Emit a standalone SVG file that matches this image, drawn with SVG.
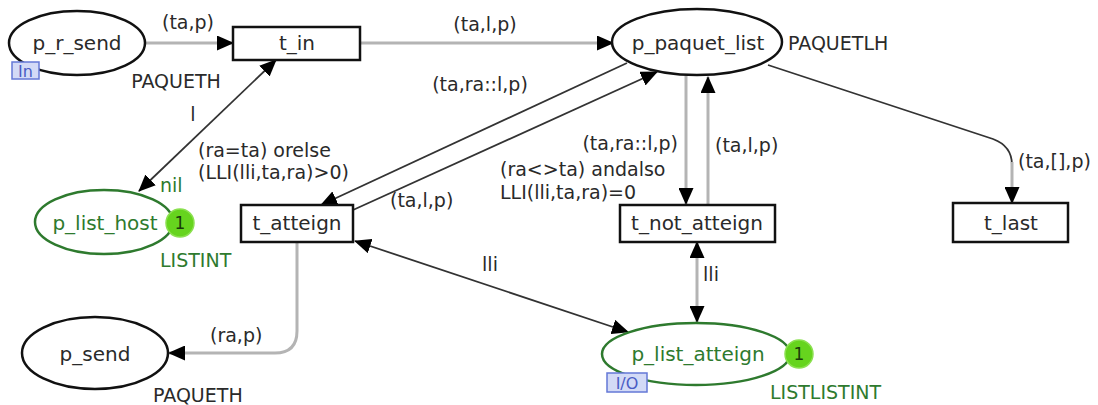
<svg xmlns="http://www.w3.org/2000/svg" width="1098" height="405" viewBox="0 0 1098 405">
<defs>
<marker id="ah" markerUnits="userSpaceOnUse" markerWidth="17" markerHeight="15" refX="16" refY="7.5" orient="auto-start-reverse">
<path d="M0,0 L17,7.5 L0,15 z" fill="#000"/>
</marker>
</defs>
<style>
text{font-family:"DejaVu Sans",Verdana,sans-serif;font-size:19px;fill:#2a2a2a}
.nm{text-anchor:middle}
.n{font-size:20px}
.grn{fill:#2e7a2e}
.pl{fill:#fff;stroke:#111;stroke-width:2.5}
.plg{fill:#fff;stroke:#2e7a2e;stroke-width:2.5}
.tr{fill:#fff;stroke:#111;stroke-width:2.5}
.g{fill:none;stroke:#b4b4b4;stroke-width:3}
.d{fill:none;stroke:#333;stroke-width:1.8}
.tok{fill:#66d41e;stroke:#8be050;stroke-width:1.5}
.tokt{font-size:17px;fill:#1a3a0a;text-anchor:middle}
.port{fill:#d3daf6;stroke:#6478d6;stroke-width:1.5}
.portt{font-size:16px;fill:#4a5cc4;text-anchor:middle}
</style>
<rect width="1098" height="405" fill="#fff"/>
<g id="connectors">
<path class="g" d="M145,43 H233" marker-end="url(#ah)"/>
<path class="g" d="M360,43 H613" marker-end="url(#ah)"/>
<path class="d" d="M139,191 L276,60" marker-start="url(#ah)" marker-end="url(#ah)"/>
<path class="d" d="M627,63 L321,205" marker-end="url(#ah)"/>
<path class="d" d="M353,210 L657,72" marker-end="url(#ah)"/>
<path class="g" d="M686,75 V204" marker-end="url(#ah)"/>
<path class="g" d="M708,205 V77" marker-end="url(#ah)"/>
<path class="d" d="M768,65 L993,139 Q1012,146 1012,165"/>
<path class="g" d="M1012,162 V203" marker-end="url(#ah)"/>
<path class="g" d="M297,242 V331 Q297,353 275,353 H169" marker-end="url(#ah)"/>
<path class="d" d="M355,241 L628,332" marker-start="url(#ah)" marker-end="url(#ah)"/>
<path class="g" d="M697,242 V322" marker-start="url(#ah)" marker-end="url(#ah)"/>
</g>
<g id="labels">
<text x="188" y="29" class="nm">(ta,p)</text>
<text x="485" y="31" class="nm">(ta,l,p)</text>
<text x="480" y="91" class="nm">(ta,ra::l,p)</text>
<text x="193" y="121" class="nm">l</text>
<text x="198" y="157">(ra=ta) orelse</text>
<text x="198" y="179">(LLI(lli,ta,ra)&gt;0)</text>
<text x="390" y="207">(ta,l,p)</text>
<text x="678" y="150" text-anchor="end">(ta,ra::l,p)</text>
<text x="500" y="176">(ra&lt;&gt;ta) andalso</text>
<text x="500" y="199">LLI(lli,ta,ra)=0</text>
<text x="715" y="152">(ta,l,p)</text>
<text x="1018" y="168">(ta,[],p)</text>
<text x="490" y="271" class="nm">lli</text>
<text x="711" y="281" class="nm">lli</text>
<text x="210" y="342">(ra,p)</text>
</g>
<g id="p_r_send">
<ellipse class="pl" cx="77" cy="43" rx="68" ry="32"/>
<text x="77" y="50" class="nm n">p_r_send</text>
<rect class="port" x="12" y="62" width="27" height="17"/>
<text x="25.5" y="77" class="portt">In</text>
<text x="176" y="88" class="nm">PAQUETH</text>
</g>
<g id="t_in">
<rect class="tr" x="233" y="27" width="127" height="33"/>
<text x="297" y="50" class="nm n">t_in</text>
</g>
<g id="p_paquet_list">
<ellipse class="pl" cx="697" cy="42" rx="85" ry="33"/>
<text x="698" y="50" class="nm n">p_paquet_list</text>
<text x="788" y="50">PAQUETLH</text>
</g>
<g id="p_list_host">
<ellipse class="plg" cx="104" cy="222" rx="69" ry="32"/>
<text x="105" y="230" class="nm n grn">p_list_host</text>
<circle class="tok" cx="180" cy="223" r="14"/>
<text x="180" y="229" class="tokt">1</text>
<text x="160" y="192" class="grn">nil</text>
<text x="160" y="267" class="grn">LISTINT</text>
</g>
<g id="t_atteign">
<rect class="tr" x="241" y="205" width="112" height="37"/>
<text x="297" y="230" class="nm n">t_atteign</text>
</g>
<g id="t_not_atteign">
<rect class="tr" x="620" y="205" width="155" height="37"/>
<text x="697" y="230" class="nm n">t_not_atteign</text>
</g>
<g id="t_last">
<rect class="tr" x="953" y="203" width="115" height="39"/>
<text x="1011" y="230" class="nm n">t_last</text>
</g>
<g id="p_send">
<ellipse class="pl" cx="95" cy="353" rx="73" ry="36"/>
<text x="95" y="361" class="nm n">p_send</text>
<text x="153" y="402">PAQUETH</text>
</g>
<g id="p_list_atteign">
<ellipse class="plg" cx="696" cy="354" rx="94" ry="31"/>
<text x="698" y="361" class="nm n grn">p_list_atteign</text>
<circle class="tok" cx="799" cy="354" r="14"/>
<text x="799" y="360" class="tokt">1</text>
<rect class="port" x="607" y="373" width="40" height="19"/>
<text x="627" y="389" class="portt">I/O</text>
<text x="770" y="399" class="grn">LISTLISTINT</text>
</g>
</svg>
